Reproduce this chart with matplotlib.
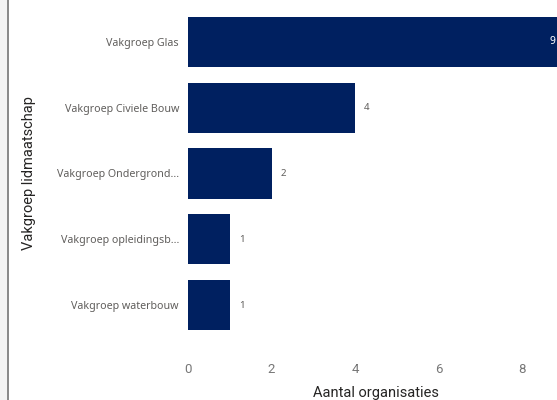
import matplotlib.pyplot as plt
from matplotlib.patches import Rectangle

categories = ["Vakgroep Glas", "Vakgroep Civiele Bouw", "Vakgroep Ondergrond...",
              "Vakgroep opleidingsb...", "Vakgroep waterbouw"]
counts = [9, 4, 2, 1, 1]
xticks = [0, 2, 4, 6, 8]

navy = "#002060"

fig = plt.figure(figsize=(5.57, 4), dpi=100)

# grey strip + border on the left edge
fig.patches.append(Rectangle((0, 0), 7 / 557, 1, transform=fig.transFigure,
                             facecolor="#f3f3f3", edgecolor="none"))
fig.patches.append(Rectangle((7 / 557, 0), 1.6 / 557, 1, transform=fig.transFigure,
                             facecolor="#8a8a8a", edgecolor="none"))

# axes runs past the right edge, like the cropped original
ax = fig.add_axes([188 / 557, 1 - 338 / 400, 376 / 557, 329 / 400])
ypos = list(range(len(categories)))
ax.barh(ypos, counts, height=0.76, color=navy)
ax.set_ylim(4.5, -0.5)
ax.set_xlim(0, 9)

for y, v in zip(ypos, counts):
    if v >= 9:
        ax.text(v - 0.2, y, str(v), ha="right", va="center", color="white",
                fontsize=7.5, fontweight="bold", family="Noto Sans")
    else:
        ax.text(v + 0.22, y, str(v), ha="left", va="center", color="#605e5c",
                fontsize=7, family="Noto Sans")

ax.set_yticks(ypos)
ax.set_yticklabels(categories, family="Noto Sans", fontsize=7.7, color="#605e5c")
ax.set_xticks(xticks)
ax.set_xticklabels([str(t) for t in xticks], family="Roboto", fontsize=9.5, color="#777777")
ax.tick_params(axis="y", length=0, pad=6.5)
ax.tick_params(axis="x", length=0, pad=18)

ax.set_xlabel("Aantal organisaties", family="Roboto", fontsize=10.5, color="#252423", labelpad=7)
ax.set_ylabel("Vakgroep lidmaatschap", family="Roboto", fontsize=10.5, color="#252423", labelpad=15)

for s in ax.spines.values():
    s.set_visible(False)

fig.savefig("out.png", dpi=100)
